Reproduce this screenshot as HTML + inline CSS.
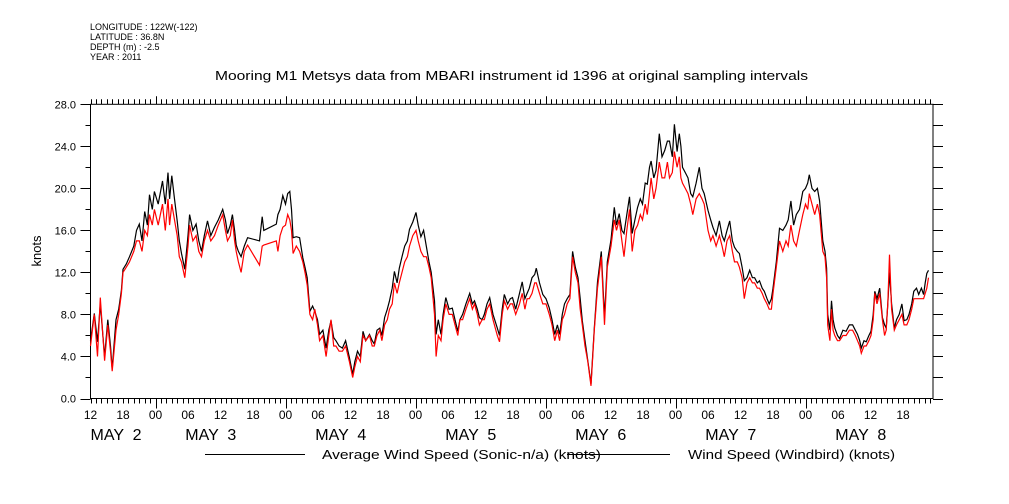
<!DOCTYPE html>
<html><head><meta charset="utf-8"><style>
body{margin:0;background:#fff;width:1009px;height:504px;overflow:hidden}
svg{display:block;font-family:"Liberation Sans",sans-serif}
</style></head><body>
<svg id="c" width="1009" height="504">
<g font-size="9" fill="#000">
<text x="90" y="30">LONGITUDE : 122W(-122)</text>
<text x="90" y="40">LATITUDE : 36.8N</text>
<text x="90" y="50">DEPTH (m) : -2.5</text>
<text x="90" y="60">YEAR : 2011</text>
</g>
<text x="215" y="80" font-size="13" textLength="593" lengthAdjust="spacingAndGlyphs">Mooring M1 Metsys data from MBARI instrument id 1396 at original sampling intervals</text>
<text x="0" y="0" font-size="13" text-anchor="middle" transform="translate(41,251) rotate(-90)">knots</text>
<g id="axes"></g>
<g id="series"></g>
<g font-size="13">
<line x1="205" y1="454.5" x2="305" y2="454.5" stroke="#000"/>
<text x="322" y="459" textLength="279" lengthAdjust="spacingAndGlyphs">Average Wind Speed (Sonic-n/a) (knots)</text>
<line x1="567" y1="454.5" x2="670" y2="454.5" stroke="#000"/>
<text x="688" y="459" textLength="207" lengthAdjust="spacingAndGlyphs">Wind Speed (Windbird) (knots)</text>
</g>
</svg>
<script>
const hours=[0,0.7,1.3,1.8,2.6,3.2,3.7,4,4.7,5.2,5.7,6,6.6,7.2,8,8.5,9,9.5,10,10.5,10.9,11.4,11.8,12.5,13.3,13.8,14.3,14.6,15,15.5,16,16.4,16.8,17.4,18,18.3,18.9,19.5,20,20.5,21,21.6,22.2,22.9,23.6,24.4,24.9,25.3,25.8,26.2,26.6,26.9,27.3,27.8,28.4,29,31.2,31.7,32,34.3,34.6,35,35.5,36,36.4,36.8,37.1,37.4,38,38.6,39.2,39.6,40,40.5,41,41.4,41.9,42.3,42.9,43.5,44,44.4,44.9,45.3,45.9,46.5,47.1,47.8,48.4,48.8,49.3,49.8,50.3,50.8,51.5,52,52.4,52.9,53.4,53.8,54.3,54.8,55.2,55.7,56.1,56.6,57,57.5,58,58.5,58.9,59.5,60.1,60.5,61,61.5,62,62.5,62.9,63.5,63.8,64.2,64.7,65.1,65.6,66.2,66.8,67.3,67.8,68.2,68.7,69.3,70,70.5,70.9,71.4,71.8,72.3,72.7,73.2,73.7,74.3,75.1,75.5,76,76.4,77,77.5,77.9,78.5,79.2,79.7,80.2,80.6,81,81.5,82,82.3,82.9,83.5,84.1,84.7,85.2,85.7,86.2,86.6,87.1,87.5,88,88.5,89,89.5,90,90.4,90.8,91.3,91.8,92.4,93,93.6,94.3,94.9,95.4,96.1,96.7,97.1,97.6,98.1,98.5,99,99.5,100,100.5,101,101.5,101.9,102.4,102.8,103.2,103.5,104,104.4,105,105.5,106,106.5,106.9,107.4,107.8,108.3,108.7,109,109.3,109.8,110.3,110.8,111.2,111.8,112.4,112.9,113.3,114,114.5,114.9,115.5,116.1,116.6,117,117.5,118,118.5,118.9,119.4,119.8,120.3,120.7,121.2,121.7,122.2,122.6,123.1,123.5,124,124.4,124.9,125.3,125.7,126,126.6,127.2,127.8,128.4,128.8,129.3,129.8,130.3,130.9,131.5,132,132.4,132.7,133.2,133.7,134.2,134.6,135.2,135.6,135.9,136.1,136.5,136.8,137.1,137.4,137.9,138.3,138.9,139.5,140.1,140.7,141.2,141.6,142,142.3,142.8,143.2,143.7,144.1,144.5,144.8,145.2,145.7,146.2,146.6,146.9,147.2,147.5,147.9,148.4,148.8,149.3,149.8,150.2,150.7,151.1,151.6,152,152.5,152.9,153.4,153.8,154.1,154.4,154.7];
const sonic=[5.5,8.1,5.4,9,4,7.5,5,2.8,7.5,8.5,10.3,12.3,12.8,13.5,14.5,16,16.6,15,17.8,16.5,19.4,18,19.7,18.5,20.7,18.5,21.5,19,21.2,19,16.9,15,13.8,12.3,15.5,17.5,16,16.6,15,14,15.5,16.9,15.5,16.3,17,18,17,15.7,16.5,17.5,16,14.6,14,13.5,14.5,15.3,15,17.3,16,16.6,17.5,18,19.3,18.5,19.5,19.7,18,15.3,15.4,15.3,13.4,12.5,11.5,8.3,8.8,8.3,7.5,6.1,6.5,4.8,6.5,7.4,5.8,5.5,5,4.8,5.5,3.9,2.3,3.5,4.5,4,6.4,5.5,6.1,5.5,5.2,6.5,6.7,6,7.7,8.5,9.3,10.5,12.1,11,12.4,13.5,14.5,15,16.1,16.8,17.7,16.5,15.4,16,14.5,13,12,9.3,6.1,7.5,6.1,8,9.6,8.5,8.6,7.5,6.4,7.5,8,9,10,9,9.3,8.5,7.7,7.5,8,9,9.6,8,6.7,6,8.5,9.9,9,9.5,9.6,8.5,10,11.1,9.5,10,10.5,11.5,11.8,12.4,11,9.9,9.5,8.6,7.5,6.1,7,6.1,8,9,9.5,9.9,14,12.5,11.5,9.5,7.4,5.5,3.6,1.4,6.7,11.1,14,7.7,13,15.1,18.2,16.5,17.6,16,15.7,17.5,19.2,15.7,17,18.2,19,18.5,20.5,20.4,22,22.6,21,21.7,25.2,23,23.6,24.5,24.5,23,26.1,23.5,25.2,24,22,21.5,21,19.5,19.2,20.5,22,20,19.5,17.9,17,16.3,15.5,16.9,15.5,15,16,16.9,15,14.4,14,13.8,12.5,11.2,11.5,12.2,11.5,11.5,11,11.2,10.5,10.2,9.5,9,9.5,10.5,13,16.2,16,16.5,17,18.8,16.5,17.5,18,19.7,20,20.5,21.3,20,19.7,20,18.8,15,14,12.4,8,6.5,9.3,7.5,6.7,6,5.7,6.5,6.4,7,7,6.5,6.1,5.5,4.8,5.5,5.4,6,6.4,8,10.2,9.5,10.5,7.7,7,6.7,9,12,9,6.7,7.5,8,9,7.4,7.5,8,9,10.2,10.5,9.9,10.5,9.9,11,11.9,12.2];
const windbird=[5,8,4,9.6,3.6,7,4.5,2.6,6.5,8,10,12,12.5,13,14,15,15,14,16,15.5,17.5,16.5,18,16.5,18.5,16,19,16.5,18.5,17,15.5,13.5,13,11.5,14.5,16.5,15,15.5,14,13.5,15,16,15,15.5,16.5,17.5,16,15,15.5,17,15,14,13,12,14,14.6,12.7,14.5,14.6,15,14,15.5,16.3,16.5,17.5,17,16,13.8,14.5,14,13,12,10.8,8,7.5,8.5,7,5.5,6,4,6,7.5,5,5,4.5,4.5,5,3.5,2,3,4,3.5,6,5.5,6,5,5,6,6.5,5.5,7,7.5,8.5,9,11,10,11,12,13,13.5,14.5,15.5,16,15,14,13.5,13.5,12.5,11.5,8,4,6,5.5,7.5,9,8,8,7,6,7.5,7.5,8.5,9.5,8.5,9,8,7,7.5,7.5,8.5,9,7.5,6,5.4,8,9.3,8.5,9,9,8,9,10,8.5,9.5,9.5,10,11,11,10,9,9,8,7,5.5,6.5,5.5,7.5,8,9,9.5,13.5,12,11,8.5,7,5,3.5,1.2,6.5,10.5,13.5,7,12.5,14.5,17,16,17,15,13.5,16,18,14,16,16.5,17.5,17,18.5,17.5,19.5,21,19,20,22.5,21,21,22.5,21,21.5,23.5,22,23,21,20.5,20,19.5,18.5,17.5,19,19.5,19,18.5,16,15,15.5,14.5,15.5,14.5,13.5,15,15.5,14,13,13,12.5,11.5,9.5,11,11.5,11,11,10.5,10.5,10,9.5,9,8.5,8.5,10,12.5,15,14,15,14.5,16.5,15,14.5,16,17.5,18.5,18,19.5,18.5,17.5,18.5,17.5,14,13.5,11.5,7,5.5,8.5,6.5,6,5.5,5.5,6,6,6.5,6.5,6,5.5,5,4.3,5,5,5.5,6,7.5,10,9,10,7.5,6,6.5,9,13.7,8.5,6.5,7,7.5,8,7,7,7.5,8.5,9.5,9.5,9.5,9.5,9.5,10,10.5,11.5];
const yTicks=[0,4,8,12,16,20,24,28];
const yTickLabels=["0.0","4.0","8.0","12.0","16.0","20.0","24.0","28.0"];
const hourLabels=["12","18","00","06","12","18","00","06","12","18","00","06","12","18","00","06","12","18","00","06","12","18","00","06","12","18"];
const dayLabels=["MAY  2","MAY  3","MAY  4","MAY  5","MAY  6","MAY  7","MAY  8"];
const dayLabelHours=[0,17.5,41.5,65.5,89.5,113.5,137.5];

const X0=90.5,X1=933,Y0=398.5,Y1=104.3,PXH=130/24;
const xs=h=>X0+h*PXH;
const ys=v=>Y0-(v/28)*(Y0-Y1);
const NS="http://www.w3.org/2000/svg";
const axes=document.getElementById('axes'),ser=document.getElementById('series');
function mk(tag,attrs,parent){const e=document.createElementNS(NS,tag);for(const k in attrs)e.setAttribute(k,attrs[k]);parent.appendChild(e);return e;}
const fr=mk('rect',{x:X0,y:Y1,width:X1-X0,height:Y0-Y1,fill:'none',stroke:'#000','stroke-width':1},axes);


let d="";
for(let h=0;xs(h)<=X1+0.1;h++){
  const x=Math.round(xs(h))+0.5;const major=((h+12)%24===0);
  d+=`M${x} ${Y1}V${Y1-(major?8:5)}M${x} ${Y0}V${Y0+(major?10:5)}`;
}
for(let v=0;v<=28;v+=2){const y=Math.round(ys(v))+0.5;const major=v%4===0;
  d+=`M${X0} ${y}H${X0-(major?10:5)}M${X1} ${y}H${X1+10}`;}
const tk=mk('path',{d:d,stroke:'#000','stroke-width':1,fill:'none'},axes);


yTicks.forEach((v,i)=>{const t=mk('text',{x:76,y:ys(v)+4,'font-size':11,'text-anchor':'end'},axes);t.textContent=yTickLabels[i];
  
  });
hourLabels.forEach((s,i)=>{const t=mk('text',{x:xs(i*6),y:419,'font-size':12,'text-anchor':'middle'},axes);t.textContent=s;
  
  });
dayLabels.forEach((s,i)=>{const t=mk('text',{x:xs(dayLabelHours[i]),y:440,'font-size':16},axes);t.textContent=s;t.style.whiteSpace='pre';
  
  });
function line(vals,color,name){
  const p=hours.map((h,i)=>`${xs(h).toFixed(1)},${ys(vals[i]).toFixed(1)}`).join(' ');
  const e=mk('polyline',{points:p,fill:'none',stroke:color,'stroke-width':1.2},ser);
  
  
}
line(sonic,'#000','sonic-series');
line(windbird,'#f00','windbird-series');
</script>
</body></html>
